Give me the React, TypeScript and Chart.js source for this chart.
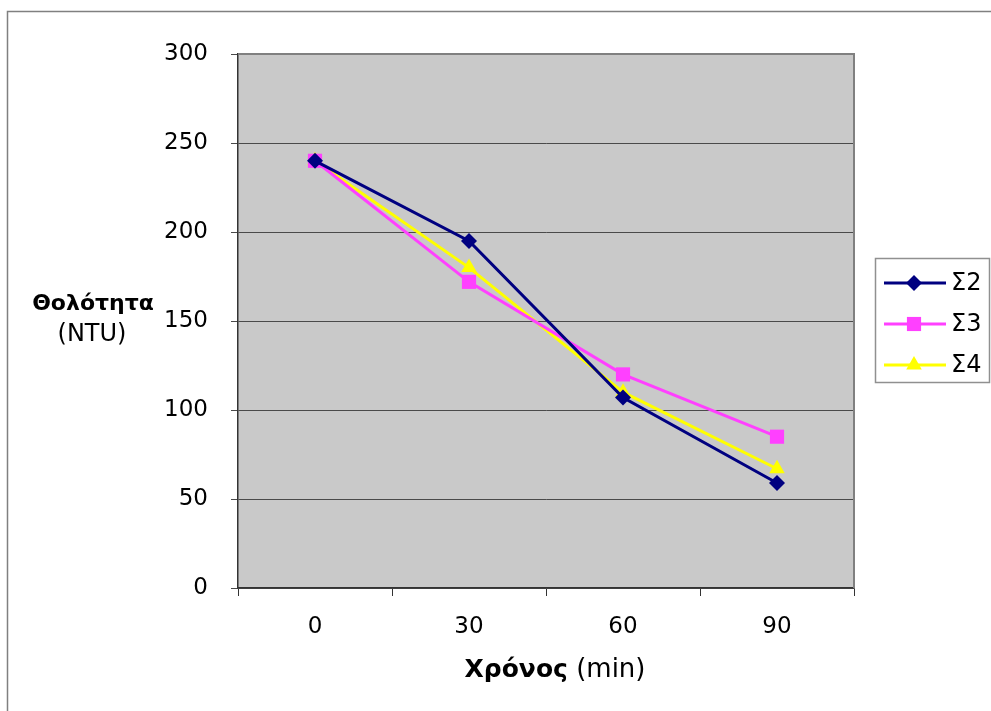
import React, { useEffect, useRef } from "react";
import { Chart, registerables } from "chart.js";

Chart.register(...registerables);

const categories = ["0", "30", "60", "90"];
const seriesNames = ["Σ2", "Σ3", "Σ4"];
const s2 = [240, 195, 107, 59];
const s3 = [240, 172, 120, 85];
const s4 = [240, 180, 110, 67];
const yTicks = [0, 50, 100, 150, 200, 250, 300];

const colors = ["#000080", "#ff40ff", "#ffff00"];
const pointStyles = ["rectRot", "rect", "triangle"];
const pointRadii = [8, 10, 9];
const FONT = "DejaVu Sans";

function drawPoint(ctx: CanvasRenderingContext2D, style: string, r: number, x: number, y: number) {
  ctx.beginPath();
  if (style === "rectRot") {
    ctx.moveTo(x, y - r);
    ctx.lineTo(x + r, y);
    ctx.lineTo(x, y + r);
    ctx.lineTo(x - r, y);
  } else if (style === "rect") {
    const s = r * Math.SQRT1_2;
    ctx.rect(x - s, y - s, 2 * s, 2 * s);
  } else {
    ctx.moveTo(x, y - r);
    ctx.lineTo(x + r * 0.866, y + r * 0.5);
    ctx.lineTo(x - r * 0.866, y + r * 0.5);
  }
  ctx.closePath();
  ctx.fill();
}

const decorPlugin = {
  id: "decor",
  beforeDraw(chart: any) {
    const { ctx, chartArea: a } = chart;
    ctx.save();
    ctx.fillStyle = "#ffffff";
    ctx.fillRect(0, 0, chart.width, chart.height);
    ctx.strokeStyle = "#808080";
    ctx.lineWidth = 1.5;
    ctx.strokeRect(7.5, 11.5, 990, 720);
    ctx.fillStyle = "#c9c9c9";
    ctx.fillRect(a.left, a.top, a.right - a.left, a.bottom - a.top);
    ctx.restore();
  },
  afterDraw(chart: any) {
    const { ctx, chartArea: a } = chart;
    ctx.save();
    ctx.strokeStyle = "#808080";
    ctx.lineWidth = 2;
    ctx.beginPath();
    ctx.moveTo(a.left, a.top);
    ctx.lineTo(a.right, a.top);
    ctx.lineTo(a.right, a.bottom);
    ctx.stroke();

    // y title
    ctx.fillStyle = "#000";
    ctx.textAlign = "center";
    ctx.textBaseline = "middle";
    ctx.font = `bold 22px "${FONT}"`;
    ctx.fillText("Θολότητα", 93, 304);
    ctx.font = `24px "${FONT}"`;
    ctx.fillText("(NTU)", 92, 335);

    // x title
    ctx.textAlign = "left";
    const bold = "Χρόνος";
    const norm = " (min)";
    ctx.font = `bold 25px "${FONT}"`;
    const wb = ctx.measureText(bold).width;
    ctx.font = `26px "${FONT}"`;
    const wn = ctx.measureText(norm).width;
    const cx = 555;
    const sx = cx - (wb + wn) / 2;
    ctx.font = `bold 25px "${FONT}"`;
    ctx.fillText(bold, sx, 670);
    ctx.font = `26px "${FONT}"`;
    ctx.fillText(norm, sx + wb, 670);

    // legend
    ctx.strokeStyle = "#909090";
    ctx.lineWidth = 1.5;
    ctx.strokeRect(875.5, 258.5, 114, 124);
    const rows = [283, 324, 365];
    chart.data.datasets.forEach((ds: any, i: number) => {
      const y = rows[i];
      ctx.strokeStyle = ds.borderColor;
      ctx.lineWidth = 3;
      ctx.beginPath();
      ctx.moveTo(884, y);
      ctx.lineTo(946, y);
      ctx.stroke();
      ctx.fillStyle = ds.pointBackgroundColor;
      drawPoint(ctx, ds.pointStyle, ds.pointRadius, 914, y);
      ctx.fillStyle = "#000";
      ctx.font = `24px "${FONT}"`;
      ctx.textAlign = "left";
      ctx.textBaseline = "middle";
      ctx.fillText(ds.label, 951, y + 1);
    });
    ctx.restore();
  },
};

export default function App() {
  const ref = useRef<HTMLCanvasElement | null>(null);
  useEffect(() => {
    if (!ref.current) return;
    const data = [s2, s3, s4];
    const chart = new Chart(ref.current, {
      type: "line",
      data: {
        labels: categories,
        datasets: seriesNames.map((name, i) => ({
          label: name,
          data: data[i],
          borderColor: colors[i],
          backgroundColor: colors[i],
          pointBackgroundColor: colors[i],
          pointBorderColor: colors[i],
          pointBorderWidth: 0,
          pointStyle: pointStyles[i] as any,
          pointRadius: pointRadii[i],
          borderWidth: 3,
          tension: 0,
          fill: false,
        })),
      },
      options: {
        responsive: false,
        animation: false,
        events: [],
        layout: { padding: { left: 0, top: 54, right: 137, bottom: 0 } },
        plugins: { legend: { display: false }, tooltip: { enabled: false } },
        scales: {
          x: {
            type: "category",
            offset: true,
            grid: {
              offset: true,
              drawOnChartArea: false,
              drawTicks: true,
              tickLength: 8,
              color: "#333",
              lineWidth: 1,
            },
            border: { display: true, color: "#333", width: 1.5 },
            ticks: {
              color: "#000",
              font: { family: FONT, size: 23 },
              padding: 17,
              maxRotation: 0,
            },
            afterFit(s: any) {
              s.height = 123;
            },
          },
          y: {
            min: 0,
            max: 300,
            afterBuildTicks(s: any) {
              s.ticks = yTicks.map((v) => ({ value: v }));
            },
            grid: {
              color: "#4a4a4a",
              lineWidth: 1,
              tickLength: 7,
              drawTicks: true,
            },
            border: { display: true, color: "#333", width: 1.5 },
            ticks: {
              color: "#000",
              font: { family: FONT, size: 23 },
              padding: 23,
            },
            afterFit(s: any) {
              s.width = 238;
            },
          },
        },
      },
      plugins: [decorPlugin],
    });
    return () => chart.destroy();
  }, []);
  return (
    <div style={{ position: "fixed", left: 0, top: 0, width: 991, height: 711, background: "#fff" }}>
      <canvas ref={ref} width={991} height={711} style={{ width: 991, height: 711, display: "block" }} />
    </div>
  );
}
